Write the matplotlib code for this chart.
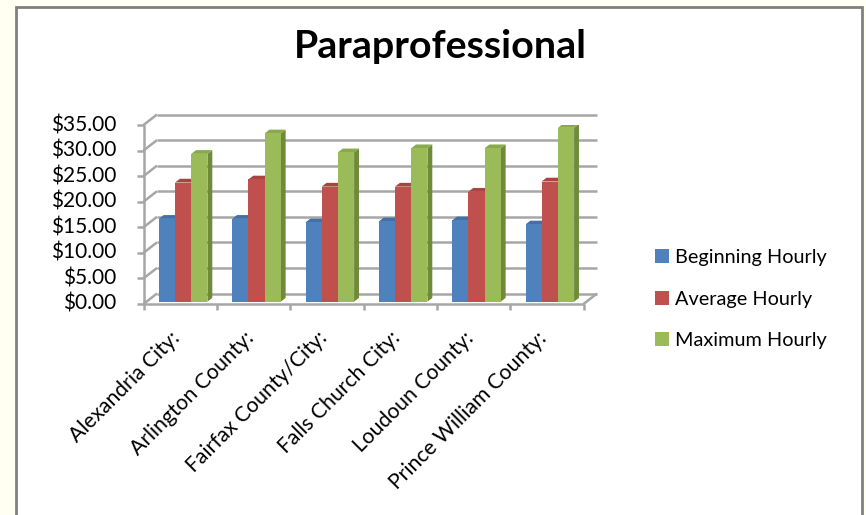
import matplotlib
matplotlib.use("Agg")
import matplotlib.pyplot as plt
from matplotlib.patches import Rectangle, Polygon, Patch
from matplotlib.lines import Line2D

plt.rcParams['font.family'] = ['Lato', 'DejaVu Sans']

title = "Paraprofessional"
categories = ["Alexandria City:", "Arlington County:", "Fairfax County/City:",
              "Falls Church City:", "Loudoun County:", "Prince William County:"]
series_names = ["Beginning Hourly", "Average Hourly", "Maximum Hourly"]
beginning = [16.2, 16.2, 15.5, 15.7, 15.9, 15.1]
average = [23.3, 23.9, 22.5, 22.5, 21.5, 23.5]
maximum = [28.9, 32.9, 29.2, 30.0, 30.0, 34.0]
yticks = [0, 5, 10, 15, 20, 25, 30, 35]
ytick_labels = ["$0.00", "$5.00", "$10.00", "$15.00", "$20.00", "$25.00", "$30.00", "$35.00"]

front_colors = ["#4F81BD", "#C0504D", "#9BBB59"]
side_colors = ["#36598A", "#8C3A38", "#6E8A3A"]
top_colors = ["#4470A8", "#A94441", "#89A94B"]
grid_color = "#A6A6A6"

W_PX, H_PX = 866, 515
fig = plt.figure(figsize=(W_PX / 100, H_PX / 100), dpi=100)
fig.patch.set_facecolor("#FFFFF2")
# chart area
fig.patches.append(Rectangle((16 / W_PX, -0.01), (862 - 16) / W_PX, (515 - 7) / H_PX + 0.01,
                             transform=fig.transFigure, facecolor="white",
                             edgecolor="#808080", linewidth=2.0, zorder=-10))

# front plane of plot area in pixels
x0_px, x1_px = 143.5, 583.5
y0_px, y1_px = 304.0, 125.0
ax = fig.add_axes([x0_px / W_PX, 1 - y0_px / H_PX, (x1_px - x0_px) / W_PX, (y0_px - y1_px) / H_PX])
ax.set_zorder(1)
ncat = len(categories)
ymax = 35
ax.set_xlim(0, ncat)
ax.set_ylim(0, ymax)
ax.axis("off")

px_x = (x1_px - x0_px) / ncat      # pixels per x unit
px_y = (y0_px - y1_px) / ymax      # pixels per y unit
depth_dx, depth_dy = 13.5 / px_x, 10.5 / px_y   # full depth in data units

def line(xs, ys, **kw):
    ax.add_line(Line2D(xs, ys, color=grid_color, linewidth=1.8, clip_on=False,
                       solid_capstyle="butt", **kw))

# back wall gridlines, left wall diagonals, left axis ticks
for t in yticks:
    line([depth_dx, ncat + depth_dx], [t + depth_dy, t + depth_dy], zorder=1)
    line([0, depth_dx], [t, t + depth_dy], zorder=1)
    line([-7 / px_x, 0], [t, t], zorder=1)
# left front axis
line([0, 0], [0, ymax], zorder=1)
# floor front edge and right diagonal
line([0, ncat], [0, 0], zorder=1)
line([ncat, ncat + depth_dx], [0, depth_dy], zorder=1)
# category tick marks
for i in range(ncat + 1):
    line([i, i], [0, -6 / px_y], zorder=1)

# bars
bar_w = 16.2 / px_x
fx, fy = 0.22 * depth_dx, 0.22 * depth_dy   # bar front offset
bx, by = 0.36 * depth_dx, 0.36 * depth_dy   # bar depth
series = [beginning, average, maximum]
for ci in range(ncat):
    for si, vals in enumerate(series):
        v = vals[ci]
        xl = ci + 0.5 - 1.5 * bar_w + si * bar_w + fx
        xr = xl + bar_w
        yb = fy
        z = 3 + ci * 3 + si
        # side face
        ax.add_patch(Polygon([(xr, yb), (xr + bx, yb + by), (xr + bx, yb + v + by), (xr, yb + v)],
                             closed=True, facecolor=side_colors[si], edgecolor="none", zorder=z))
        # top face
        ax.add_patch(Polygon([(xl, yb + v), (xl + bx, yb + v + by), (xr + bx, yb + v + by), (xr, yb + v)],
                             closed=True, facecolor=top_colors[si], edgecolor="none", zorder=z))
    for si, vals in enumerate(series):
        xc = ci + 0.5 - 1.5 * bar_w + si * bar_w + fx + bar_w / 2
        ax.bar([xc], [vals[ci]], width=bar_w, bottom=fy, color=front_colors[si],
               edgecolor="none", zorder=3 + ci * 3 + 2.5, clip_on=False)

# y tick labels
for t, lab in zip(yticks, ytick_labels):
    ax.text(-27.5 / px_x, t, lab, ha="right", va="center", fontsize=15, color="black",
            clip_on=False)

# x tick labels
for i, lab in enumerate(categories):
    ax.text(i + 0.5 - 10 / px_x, -24 / px_y, lab, rotation=45, ha="right", va="top",
            rotation_mode="anchor", fontsize=15.2, color="black", clip_on=False)

# title
fig.text(440 / W_PX, 1 - 47 / H_PX, title, ha="center", va="center", fontsize=28.4,
         fontweight="bold", color="black")

# legend
handles = [Patch(facecolor=c, edgecolor="none") for c in front_colors]
fig.legend(handles, series_names, loc="center left",
           bbox_to_anchor=(637 / W_PX, 1 - 299 / H_PX), frameon=False, fontsize=14.3,
           handlelength=0.7, handleheight=0.7, handletextpad=0.3, labelspacing=1.22)

fig.savefig("out.png", dpi=100, facecolor=fig.get_facecolor())
